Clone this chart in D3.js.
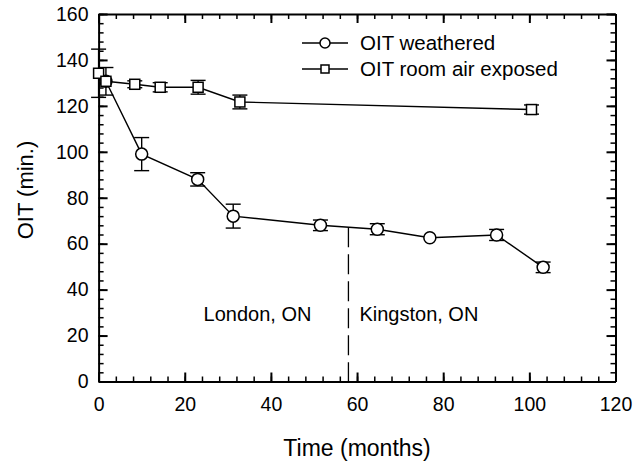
<!DOCTYPE html>
<html lang="en">
<head>
  <meta charset="UTF-8">
  <title>OIT vs time</title>
  <style>
    body { margin: 0; background: #fff; }
    text { font-family: Arial, "Liberation Sans", sans-serif; fill: #000; }
    .axis path, .axis line { stroke: #000; stroke-width: 2px; }
    .axis text { font-size: 19.5px; }
    .minor path { display: none; }
    .minor line { stroke-width: 1.5px; }
    .line { fill: none; stroke: #000; stroke-width: 1.4px; }
    .err { stroke: #000; stroke-width: 1.4px; fill: none; }
    .marker { fill: #fff; stroke: #000; stroke-width: 1.5px; }
  </style>
  <script src="https://d3js.org/d3.v7.min.js"></script>
</head>
<body>
  <svg id="chart"></svg>
  <script>
    // OIT weathered (circles)
    var weatheredX   = [1.7, 10.0, 23.0, 31.25, 51.5, 64.7, 76.9, 92.4, 103.2];
    var weatheredY   = [130.7, 99.0, 88.0, 72.0, 68.0, 66.3, 62.6, 63.8, 49.7];
    var weatheredErr = [0, 7.2, 2.9, 5.2, 2.3, 2.4, 0, 2.4, 2.3];
    // OIT room air exposed (squares)
    var roomX   = [0, 1.7, 8.4, 14.3, 23.1, 32.8, 100.5];
    var roomY   = [134.2, 130.7, 129.4, 128.1, 128.1, 121.7, 118.4];
    var roomErr = [10.5, 6, 1.5, 2, 3, 3, 2];
    var seriesNames = ['OIT weathered', 'OIT room air exposed'];
    var xTicks = [0, 20, 40, 60, 80, 100, 120];
    var yTicks = [0, 20, 40, 60, 80, 100, 120, 140, 160];
    var moveMonth = 58;
    var regionLabels = ['London, ON', 'Kingston, ON'];

    var width = 633, height = 461;
    var plotL = 98.6, plotR = 615.5, plotT = 14, plotB = 381.5;

    var svg = d3.select('#chart').attr('width', width).attr('height', height);

    var x = d3.scaleLinear().domain([0, 120]).range([plotL, plotR]);
    var y = d3.scaleLinear().domain([0, 160]).range([plotB, plotT]);

    var minorX = d3.range(0, 121, 4), minorY = d3.range(0, 161, 4);

    // ticks on all four sides, pointing inward
    function axisPair(axisFn, scale, major, minor, transform, showLabels) {
      svg.append('g').attr('class', 'axis minor').attr('transform', transform)
        .call(axisFn(scale).tickValues(minor).tickSize(-5).tickFormat(''));
      var g = svg.append('g').attr('class', 'axis').attr('transform', transform)
        .call(axisFn(scale).tickValues(major).tickSizeInner(-9).tickSizeOuter(0).tickPadding(showLabels ? 14 : 0)
          .tickFormat(showLabels ? d3.format('d') : ''));
      return g;
    }
    axisPair(d3.axisBottom, x, xTicks, minorX, 'translate(0,' + plotB + ')', true)
      .selectAll('text').attr('dy', '0.82em');
    axisPair(d3.axisTop, x, xTicks, minorX, 'translate(0,' + plotT + ')', false);
    axisPair(d3.axisLeft, y, yTicks, minorY, 'translate(' + plotL + ',0)', true)
      .selectAll('text').attr('dx', '0.2em');
    axisPair(d3.axisRight, y, yTicks, minorY, 'translate(' + plotR + ',0)', false);

    // axis titles
    svg.append('text').attr('x', (plotL + plotR) / 2).attr('y', 456)
      .attr('text-anchor', 'middle').style('font-size', '23px').text('Time (months)');
    svg.append('text').attr('transform', 'translate(33,' + 190 + ') rotate(-90)')
      .attr('text-anchor', 'middle').style('font-size', '22px').text('OIT (min.)');

    // move from London to Kingston
    var moveY = d3.interpolateNumber(weatheredY[4], weatheredY[5])((moveMonth - weatheredX[4]) / (weatheredX[5] - weatheredX[4]));
    svg.append('line')
      .attr('x1', x(moveMonth)).attr('x2', x(moveMonth))
      .attr('y1', y(moveY)).attr('y2', y(0))
      .attr('stroke', '#000').attr('stroke-width', 1.3).attr('stroke-dasharray', '20,7');
    svg.append('text').attr('x', x(moveMonth) - 37).attr('y', 321)
      .attr('text-anchor', 'end').style('font-size', '20px').text(regionLabels[0]);
    svg.append('text').attr('x', x(moveMonth) + 11).attr('y', 321)
      .style('font-size', '20px').text(regionLabels[1]);

    var line = d3.line().x(function(d) { return x(d[0]); }).y(function(d) { return y(d[1]); });
    var capHalf = 7.5;

    function drawSeries(xs, ys, errs, shape) {
      var pts = xs.map(function(v, i) { return [v, ys[i], errs[i]]; });
      var g = svg.append('g');
      g.append('path').datum(pts).attr('class', 'line').attr('d', line);
      var eb = g.selectAll('.eb').data(pts.filter(function(d) { return d[2] > 0; })).enter().append('g').attr('class', 'err');
      eb.append('line').attr('x1', function(d) { return x(d[0]); }).attr('x2', function(d) { return x(d[0]); })
        .attr('y1', function(d) { return y(d[1] + d[2]); }).attr('y2', function(d) { return y(d[1] - d[2]); });
      [1, -1].forEach(function(s) {
        eb.append('line').attr('x1', function(d) { return x(d[0]) - capHalf; }).attr('x2', function(d) { return x(d[0]) + capHalf; })
          .attr('y1', function(d) { return y(d[1] + s * d[2]); }).attr('y2', function(d) { return y(d[1] + s * d[2]); });
      });
      if (shape === 'circle') {
        g.selectAll('circle').data(pts).enter().append('circle').attr('class', 'marker')
          .attr('cx', function(d) { return x(d[0]); }).attr('cy', function(d) { return y(d[1]); }).attr('r', 6);
      } else {
        g.selectAll('rect').data(pts).enter().append('rect').attr('class', 'marker')
          .attr('x', function(d) { return x(d[0]) - 5; }).attr('y', function(d) { return y(d[1]) - 5; })
          .attr('width', 10).attr('height', 10);
      }
    }
    drawSeries(weatheredX, weatheredY, weatheredErr, 'circle');
    drawSeries(roomX, roomY, roomErr, 'square');

    // legend
    var legend = svg.append('g').attr('transform', 'translate(302,43)');
    seriesNames.forEach(function(name, i) {
      var row = legend.append('g').attr('transform', 'translate(0,' + (i * 26) + ')');
      row.append('line').attr('x1', 0).attr('x2', 46).attr('stroke', '#000').attr('stroke-width', 1.4);
      if (i === 0) row.append('circle').attr('class', 'marker').attr('cx', 23).attr('r', 5);
      else row.append('rect').attr('class', 'marker').attr('x', 19).attr('y', -4).attr('width', 8).attr('height', 8);
      row.append('text').attr('x', 58).attr('y', 7).style('font-size', '20.5px').text(name);
    });
  </script>
</body>
</html>
